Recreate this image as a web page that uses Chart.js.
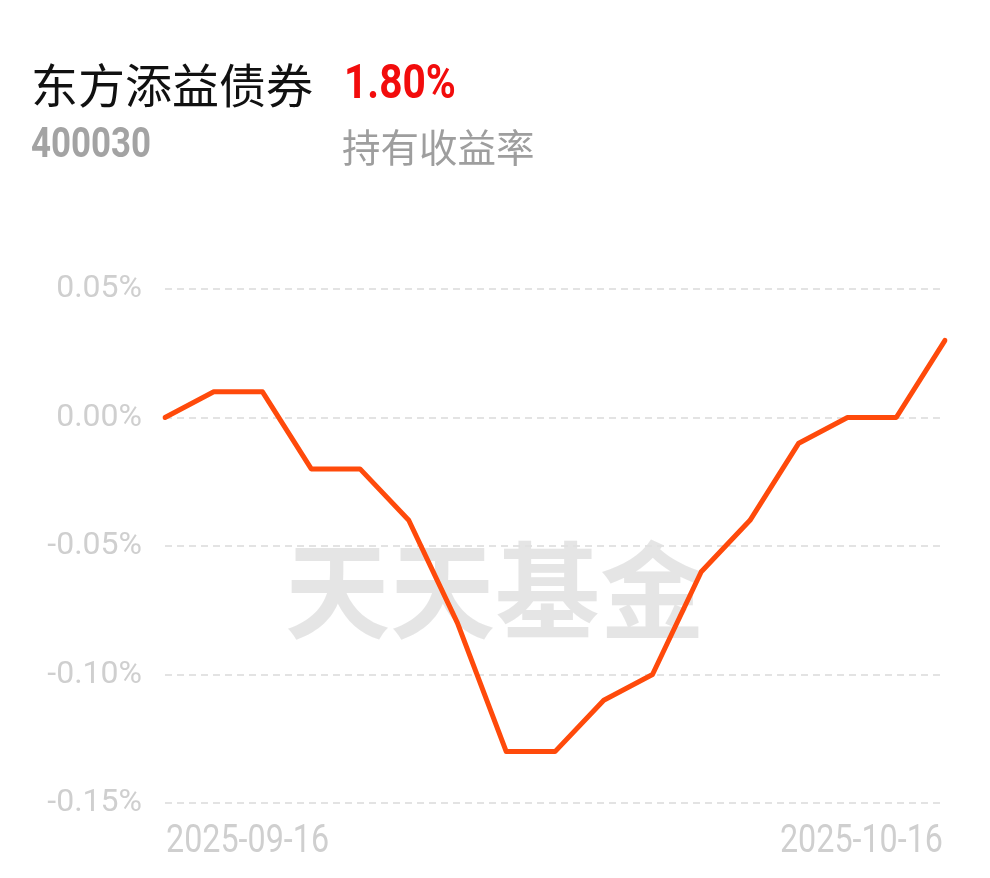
<!DOCTYPE html>
<html>
<head>
<meta charset="utf-8">
<script src="https://cdn.jsdelivr.net/npm/chart.js@4"></script>
<style>
  body { margin: 0; background: #fff; }
  canvas { display: block; }
</style>
</head>
<body>
<canvas id="fundChart" width="990" height="878"></canvas>
<script>
const fundName = '东方添益债券';
const fundCode = '400030';
const holdReturn = '1.80%';
const holdLabel = '持有收益率';
const watermark = '天天基金';

const dates = ['2025-09-16', '2025-09-17', '2025-09-18', '2025-09-19', '2025-09-22', '2025-09-23',
    '2025-09-24', '2025-09-25', '2025-09-26', '2025-09-29', '2025-09-30', '2025-10-09',
    '2025-10-10', '2025-10-13', '2025-10-14', '2025-10-15', '2025-10-16'];
const returns = [0.00, 0.01, 0.01, -0.02, -0.02, -0.04, -0.08, -0.13, -0.13, -0.11, -0.10,
    -0.06, -0.04, -0.01, 0.00, 0.00, 0.03];
const yTicks = [-0.15, -0.10, -0.05, 0.00, 0.05];

const CJK = '"Noto Sans CJK SC", sans-serif';

// header, watermark and the two date labels drawn by hand
const decorPlugin = {
    id: 'decor',
    beforeDatasetsDraw(chart) {
        const ctx = chart.ctx;
        ctx.save();
        ctx.fillStyle = 'rgba(225,225,225,0.85)';
        ctx.font = '700 105px ' + CJK;
        ctx.textAlign = 'center';
        ctx.textBaseline = 'middle';
        ctx.fillText(watermark, 495, 590);
        ctx.restore();
    },
    afterDraw(chart) {
        const ctx = chart.ctx;
        ctx.save();
        ctx.textBaseline = 'middle';
        ctx.textAlign = 'left';

        ctx.fillStyle = '#111';
        ctx.font = '400 47px ' + CJK;
        ctx.fillText(fundName, 31, 85);

        ctx.fillStyle = '#9e9e9e';
        ctx.font = '400 38.5px ' + CJK;
        ctx.fillText(holdLabel, 342, 147);

        // condensed numbers
        ctx.save();
        ctx.translate(344, 86);
        ctx.scale(0.83, 1);
        ctx.fillStyle = '#f20c0c';
        ctx.font = 'bold 49px Roboto';
        ctx.fillText(holdReturn, 0, 0);
        ctx.restore();

        ctx.save();
        ctx.translate(31, 146);
        ctx.scale(0.83, 1);
        ctx.fillStyle = '#a3a3a3';
        ctx.font = 'bold 42px Roboto';
        ctx.fillText(fundCode, 0, 0);
        ctx.restore();

        // first and last date under the x axis
        const xs = chart.scales.x;
        const first = dates[0];
        const last = dates[dates.length - 1];
        ctx.fillStyle = '#cfcfcf';
        ctx.font = '38px Roboto';
        ctx.save();
        ctx.translate(xs.getPixelForValue(0) + 1, 842);
        ctx.scale(0.85, 1);
        ctx.fillText(first, 0, 0);
        ctx.restore();
        ctx.save();
        ctx.translate(xs.getPixelForValue(dates.length - 1) - 2, 842);
        ctx.scale(0.85, 1);
        ctx.textAlign = 'right';
        ctx.fillText(last, 0, 0);
        ctx.restore();

        ctx.restore();
    }
};

const ctx = document.getElementById('fundChart').getContext('2d');
new Chart(ctx, {
    type: 'line',
    data: {
        labels: dates,
        datasets: [{
            data: returns,
            borderColor: '#ff4a0b',
            borderWidth: 5,
            pointRadius: 0,
            tension: 0,
            fill: false,
            borderJoinStyle: 'round',
            borderCapStyle: 'round'
        }]
    },
    options: {
        responsive: false,
        animation: false,
        layout: { padding: { top: 289, right: 45, left: 0, bottom: 0 } },
        plugins: {
            legend: { display: false },
            tooltip: { enabled: false }
        },
        scales: {
            x: {
                grid: { display: false },
                border: { display: false },
                ticks: { display: false },
                afterFit: s => { s.height = 75; }
            },
            y: {
                min: yTicks[0],
                max: yTicks[yTicks.length - 1],
                afterBuildTicks: s => { s.ticks = yTicks.map(v => ({ value: v })); },
                grid: { color: '#e3e3e3', lineWidth: 2, drawTicks: false },
                border: { display: false, dash: [7, 5] },
                ticks: {
                    padding: 23,
                    color: '#cfcfcf',
                    font: { family: 'Roboto', size: 32 },
                    callback: v => (Math.abs(v) < 1e-9 ? 0 : v).toFixed(2) + '%'
                },
                afterFit: s => { s.width = 165; }
            }
        }
    },
    plugins: [decorPlugin]
});
</script>
</body>
</html>
